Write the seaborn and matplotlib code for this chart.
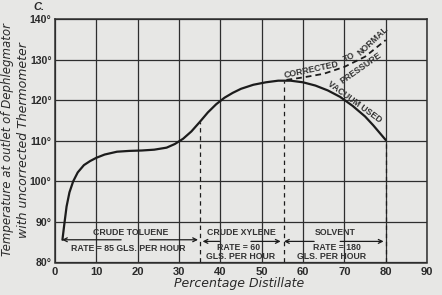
import matplotlib
matplotlib.use("Agg")
import matplotlib.pyplot as plt
import seaborn as sns
import pandas as pd

# ---- data ----
distillate = [1.8, 2.2, 2.8, 3.5, 4.4, 5.5, 7, 8.5, 10, 12, 15, 18, 21, 24, 27, 29,
              31, 33, 35, 37, 39, 41, 43, 45, 48, 51, 54, 57, 60, 63, 66, 69, 72,
              75, 77, 79, 80]
temperature = [85.6, 89, 93.8, 97.3, 100, 102.2, 104, 105, 105.8, 106.6, 107.3,
               107.5, 107.6, 107.8, 108.3, 109.2, 110.5, 112.3, 114.6, 117, 119,
               120.6, 121.8, 122.8, 123.8, 124.4, 124.8, 124.8, 124.4, 123.6,
               122.4, 120.8, 118.6, 116, 113.8, 111.4, 110.2]

corr_x = [56, 60, 65, 70, 75, 80]
corr_y = [125, 125.6, 126.5, 128.2, 130.7, 134.8]

cut_x = [35, 55.5, 80]
cut_top = [114.6, 124.8, 110.2]

fraction_names = ["CRUDE TOLUENE", "CRUDE XYLENE", "SOLVENT"]
fraction_x = [18.3, 45.2, 67.9]
rate_lines = [["RATE = 85 GLS. PER HOUR"], ["RATE = 60", "GLS. PER HOUR"],
              ["RATE = 180", "GLS. PER HOUR"]]
rate_x = [[17.8], [44.3, 45.0], [68.2, 67.0]]
arrow_tips_left = [1.7, 35.7, 55.4]
arrow_tails_left = [16.0, 39.8, 62.7]
arrow_tails_right = [22.9, 47.4, 69.0]
arrow_tips_right = [34.6, 54.6, 79.5]
arrow_y = [85.6, 85.2, 85.2]

x_ticks = [0, 10, 20, 30, 40, 50, 60, 70, 80, 90]
y_ticks = [80, 90, 100, 110, 120, 130, 140]

# ---- style ----
sns.set_style("white")
paper = "#e7e7e5"
ink = "#1c1c1c"
txt = "#2a2a2a"
plt.rcParams["font.family"] = ["Liberation Sans", "DejaVu Sans"]

fig = plt.figure(figsize=(4.42, 2.95), dpi=100, facecolor=paper)
ax = fig.add_axes([55 / 442, 32.5 / 295, 372 / 442, 243.5 / 295])
ax.set_facecolor(paper)

df = pd.DataFrame({"x": distillate, "y": temperature})
sns.lineplot(data=df, x="x", y="y", ax=ax, color=ink, linewidth=1.6,
             estimator=None, sort=True)
dfc = pd.DataFrame({"x": corr_x, "y": corr_y})
sns.lineplot(data=dfc, x="x", y="y", ax=ax, color=ink, linewidth=1.3,
             estimator=None, sort=True, linestyle=(0, (3.2, 2.2)))

ax.vlines(cut_x, 80, cut_top, colors=ink, linewidth=0.9,
          linestyles=[(0, (3.5, 3))])

ax.set_xlim(0, 90)
ax.set_ylim(80, 140)
ax.set_xticks(x_ticks)
ax.set_yticks(y_ticks)
ax.set_xticklabels([str(v) for v in x_ticks], fontsize=8, fontweight="bold",
                   color=txt)
ax.set_yticklabels([f"{v}°" for v in y_ticks], fontsize=7.6, fontweight="bold",
                   color=txt)
ax.tick_params(axis="both", length=0)
ax.tick_params(axis="x", pad=3)
ax.tick_params(axis="y", pad=2.5)
ax.grid(True, color="#2e2e2e", linewidth=0.9)
for s in ax.spines.values():
    s.set_color("#2e2e2e")
    s.set_linewidth(1.1)
ax.set_xlabel("")
ax.set_ylabel("")

# annotations for fractions
small = dict(fontsize=6.3, fontweight="bold", color="#333333", ha="center",
             va="center")
for name, fx in zip(fraction_names, fraction_x):
    ax.text(fx, 87.4, name, **small)
for lines, xs in zip(rate_lines, rate_x):
    for i, (t, xx) in enumerate(zip(lines, xs)):
        yy = 83.4 if len(lines) == 1 else (83.8 if i == 0 else 81.6)
        ax.text(xx, yy, t, **small)
aprops = dict(arrowstyle="->", color=ink, lw=0.9, shrinkA=0, shrinkB=0,
              mutation_scale=7)
for tl, tail_l, tail_r, tr, ay in zip(arrow_tips_left, arrow_tails_left,
                                      arrow_tails_right, arrow_tips_right, arrow_y):
    ax.annotate("", xy=(tl, ay), xytext=(tail_l, ay), arrowprops=aprops)
    ax.annotate("", xy=(tr, ay), xytext=(tail_r, ay), arrowprops=aprops)

# curve labels
lab = dict(fontsize=6.3, fontweight="bold", color="#333333", ha="center",
           va="center", rotation_mode="anchor")
ax.text(62.0, 127.4, "CORRECTED", rotation=12, **lab)
ax.text(71.2, 130.6, "TO", rotation=25, **lab)
ax.text(76.9, 134.6, "NORMAL", rotation=43, **lab)
ax.text(73.9, 127.9, "PRESSURE", rotation=35, **lab)
ax.text(72.5, 119.6, "VACUUM USED", rotation=-36, **lab)

# axis titles
fig.text(8 / 442, 1 - 139 / 295, "Temperature at outlet of Dephlegmator",
         rotation=90, ha="center", va="center", fontsize=8.5, style="italic",
         family="DejaVu Sans", color=txt)
fig.text(23.5 / 442, 1 - 140 / 295, "with uncorrected Thermometer",
         rotation=90, ha="center", va="center", fontsize=9, style="italic",
         family="DejaVu Sans", color=txt)
fig.text(239 / 442, 1 - 284 / 295, "Percentage Distillate", ha="center",
         va="center", fontsize=9, style="italic", family="DejaVu Sans",
         color=txt)
fig.text(39 / 442, 1 - 7 / 295, "C.", ha="center", va="center", fontsize=8,
         style="italic", fontweight="bold", color=txt)

fig.savefig("out.png", dpi=100, facecolor=paper)
